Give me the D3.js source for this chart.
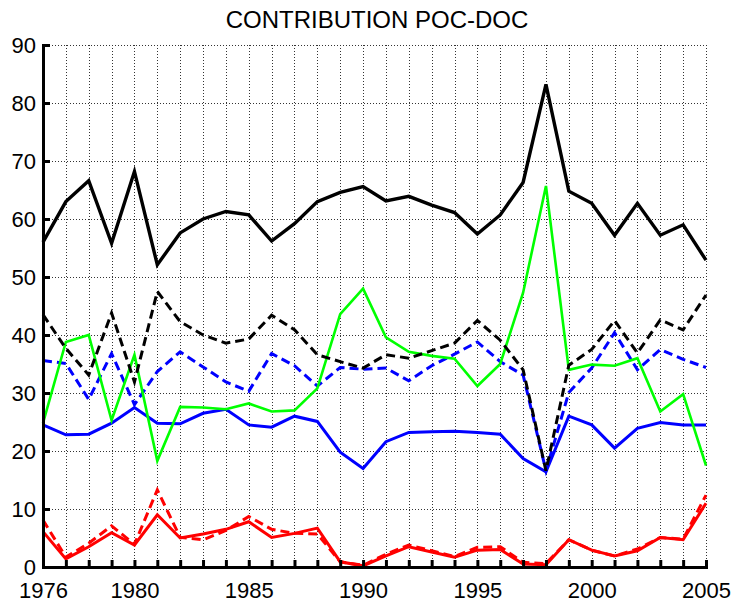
<!DOCTYPE html>
<html>
<head>
<meta charset="utf-8">
<script src="https://cdn.jsdelivr.net/npm/d3@7"></script>
<style>
  html, body { margin: 0; padding: 0; background: #fff; }
  svg { display: block; }
  text { font-family: "Liberation Sans", Arial, Helvetica, sans-serif; }
</style>
</head>
<body>
<svg id="chart" width="731" height="603"></svg>
<script>
// Yearly contribution series, 1976-2005
const years = d3.range(1976, 2006);

const blackSolid = [56.0, 63.0, 66.6, 55.8, 68.2, 52.1, 57.6, 60.0, 61.3, 60.7,
                    56.2, 59.2, 63.0, 64.6, 65.6, 63.1, 63.9, 62.4, 61.1, 57.4,
                    60.7, 66.3, 83.2, 64.8, 62.7, 57.2, 62.7, 57.2, 59.0, 52.9];
const blackDashed = [43.5, 37.7, 33.1, 43.8, 31.9, 47.5, 42.3, 40.0, 38.6, 39.3,
                     43.4, 40.9, 36.6, 35.4, 34.3, 36.6, 36.0, 37.3, 38.6, 42.5,
                     39.1, 34.0, 16.6, 34.8, 37.5, 42.5, 36.9, 42.6, 40.9, 46.9];
const blueDashed = [35.6, 35.1, 28.9, 36.8, 28.0, 33.7, 37.1, 34.5, 31.9, 30.3,
                    36.8, 34.7, 31.2, 34.4, 34.1, 34.3, 32.1, 34.7, 36.7, 38.8,
                    35.4, 33.1, 16.6, 30.1, 34.3, 40.4, 34.0, 37.5, 35.8, 34.4];
const greenSolid = [24.8, 38.8, 40.0, 25.3, 36.6, 18.3, 27.6, 27.5, 27.2, 28.2,
                    26.8, 27.0, 30.8, 43.6, 48.0, 39.6, 37.1, 36.4, 35.9, 31.2,
                    35.0, 47.3, 65.7, 34.0, 34.9, 34.7, 36.0, 26.8, 29.8, 17.5];
const blueSolid = [24.5, 22.8, 22.9, 24.8, 27.5, 24.8, 24.7, 26.5, 27.2, 24.5,
                   24.1, 26.0, 25.1, 19.8, 17.0, 21.6, 23.2, 23.3, 23.4, 23.2,
                   22.9, 18.7, 16.4, 26.0, 24.5, 20.5, 23.9, 24.9, 24.5, 24.5];
const redSolid = [6.1, 1.4, 3.5, 5.9, 3.8, 9.0, 5.0, 5.7, 6.5, 7.8,
                  5.1, 5.8, 6.7, 0.9, 0.2, 1.9, 3.5, 2.6, 1.7, 2.9,
                  3.0, 0.5, 0.4, 4.7, 2.9, 1.9, 2.8, 5.1, 4.7, 11.0];
const redDashed = [8.1, 1.7, 4.1, 7.1, 3.9, 13.3, 5.1, 4.7, 6.3, 8.7,
                   6.5, 5.8, 5.7, 0.9, 0.3, 2.2, 3.8, 2.8, 1.8, 3.4,
                   3.5, 0.8, 0.6, 4.7, 2.9, 1.9, 3.1, 5.1, 4.8, 12.4];

const xTickLabels = [1976, 1980, 1985, 1990, 1995, 2000, 2005];
const yTickValues = d3.range(0, 91, 10);
const title = "CONTRIBUTION POC-DOC";

const svg = d3.select("#chart");
const plotLeft = 43, plotRight = 706, plotTop = 45, plotBottom = 567;

const x = d3.scaleLinear().domain([1976, 2005]).range([plotLeft, plotRight]);
const y = d3.scaleLinear().domain([0, 90]).range([plotBottom, plotTop]);

// Dotted grid
const grid = svg.append("g")
  .attr("stroke", "#333")
  .attr("stroke-width", 1)
  .attr("stroke-dasharray", "1,2");
grid.selectAll("line.v").data(years.slice(1)).join("line")
  .attr("x1", d => Math.round(x(d)) + 0.5).attr("x2", d => Math.round(x(d)) + 0.5)
  .attr("y1", plotTop).attr("y2", plotBottom);
grid.selectAll("line.h").data(yTickValues.slice(1)).join("line")
  .attr("y1", d => Math.round(y(d)) + 0.5).attr("y2", d => Math.round(y(d)) + 0.5)
  .attr("x1", plotLeft).attr("x2", plotRight);

// Series
const series = [
  { values: blueDashed,  color: "#0000ff", width: 3,   dash: "9,5" },
  { values: blueSolid,   color: "#0000ff", width: 3,   dash: null },
  { values: greenSolid,  color: "#00ff00", width: 2.6, dash: null },
  { values: blackDashed, color: "#000000", width: 3,   dash: "9,5" },
  { values: blackSolid,  color: "#000000", width: 3.4, dash: null },
  { values: redSolid,    color: "#ff0000", width: 3,   dash: null },
  { values: redDashed,   color: "#ff0000", width: 3,   dash: "9,5" }
];

const line = d3.line()
  .x((d, i) => x(years[i]))
  .y(d => y(d));

svg.append("g").selectAll("path").data(series).join("path")
  .attr("d", s => line(s.values))
  .attr("fill", "none")
  .attr("stroke", s => s.color)
  .attr("stroke-width", s => s.width)
  .attr("stroke-linejoin", "miter")
  .attr("stroke-dasharray", s => s.dash);

// Axes with inward ticks
const xAxis = d3.axisBottom(x)
  .tickValues(years)
  .tickSize(-7)
  .tickPadding(15)
  .tickFormat(d => xTickLabels.includes(d) ? String(d) : "");
const yAxis = d3.axisLeft(y)
  .tickValues(yTickValues)
  .tickSize(-7)
  .tickPadding(7)
  .tickFormat(d3.format("d"));

const gx = svg.append("g").attr("transform", `translate(0,${plotBottom})`).call(xAxis);
const gy = svg.append("g").attr("transform", `translate(${plotLeft},0)`).call(yAxis);

[gx, gy].forEach(g => {
  g.select(".domain").attr("stroke", "#000").attr("stroke-width", 3);
  g.selectAll(".tick line").attr("stroke", "#000").attr("stroke-width", 3);
  g.selectAll(".tick text")
    .attr("fill", "#000")
    .style("font-size", "22px");
});
gx.selectAll(".tick text").attr("dy", "0.71em");

// Title
svg.append("text")
  .attr("x", 377).attr("y", 28)
  .attr("text-anchor", "middle")
  .style("font-size", "24px")
  .attr("fill", "#000")
  .text(title);
</script>
</body>
</html>
